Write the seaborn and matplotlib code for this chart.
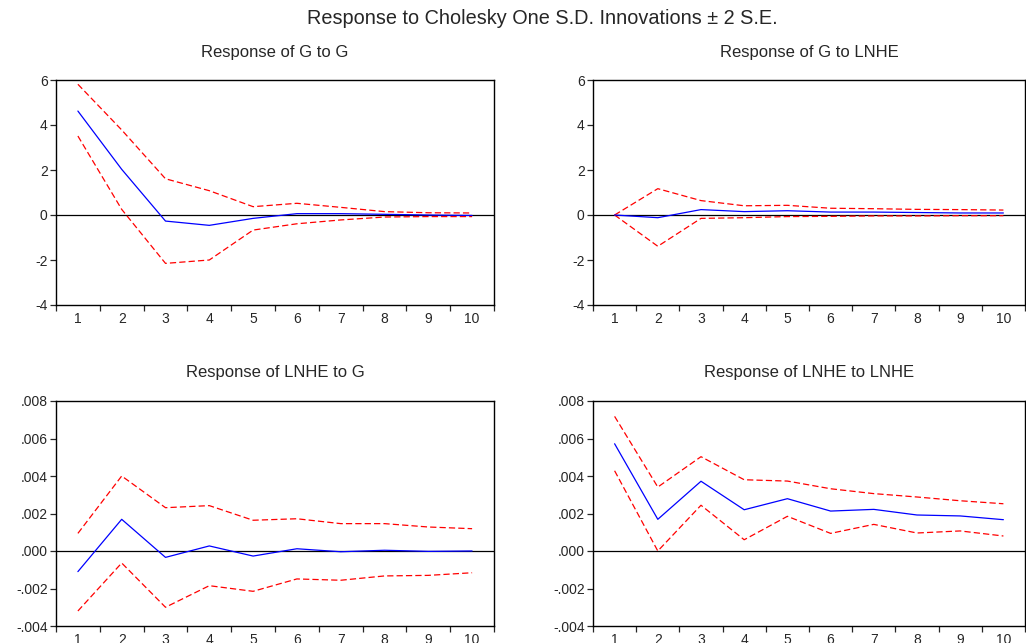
import numpy as np
import pandas as pd
import matplotlib
matplotlib.use("Agg")
import matplotlib.pyplot as plt
from matplotlib.ticker import FixedLocator, FuncFormatter
import seaborn as sns

sns.set_style("ticks")
plt.rcParams['font.family'] = ['Liberation Sans', 'DejaVu Sans']
plt.rcParams['axes.unicode_minus'] = False

periods = list(range(1, 11))

# Response of G to G
g_g = [4.62, 2.03, -0.27, -0.46, -0.15, 0.06, 0.06, 0.03, 0.00, -0.02]
g_g_hi = [5.81, 3.78, 1.61, 1.08, 0.37, 0.52, 0.34, 0.15, 0.10, 0.09]
g_g_lo = [3.51, 0.25, -2.15, -2.00, -0.67, -0.39, -0.22, -0.09, -0.07, -0.07]

# Response of G to LNHE
g_l = [0.00, -0.12, 0.24, 0.15, 0.19, 0.13, 0.13, 0.11, 0.09, 0.09]
g_l_hi = [0.00, 1.17, 0.64, 0.41, 0.43, 0.30, 0.28, 0.25, 0.24, 0.22]
g_l_lo = [0.00, -1.39, -0.15, -0.12, -0.07, -0.06, -0.04, -0.04, -0.03, -0.03]

# Response of LNHE to G
l_g = [-0.00110, 0.00169, -0.00034, 0.00027, -0.00027, 0.00012, -0.00004, 0.00004, -0.00002, 0.00000]
l_g_hi = [0.00094, 0.00400, 0.00231, 0.00242, 0.00164, 0.00172, 0.00146, 0.00146, 0.00128, 0.00119]
l_g_lo = [-0.00320, -0.00064, -0.00300, -0.00185, -0.00215, -0.00149, -0.00156, -0.00133, -0.00130, -0.00116]

# Response of LNHE to LNHE
l_l = [0.00572, 0.00169, 0.00372, 0.00220, 0.00279, 0.00213, 0.00222, 0.00192, 0.00187, 0.00167]
l_l_hi = [0.00718, 0.00341, 0.00503, 0.00380, 0.00373, 0.00332, 0.00306, 0.00288, 0.00268, 0.00252]
l_l_lo = [0.00428, 0.00000, 0.00244, 0.00060, 0.00185, 0.00094, 0.00142, 0.00096, 0.00107, 0.00080]

panels = [
    ("Response of G to G", g_g, g_g_hi, g_g_lo, [-4, 6], [-4, -2, 0, 2, 4, 6], False),
    ("Response of G to LNHE", g_l, g_l_hi, g_l_lo, [-4, 6], [-4, -2, 0, 2, 4, 6], False),
    ("Response of LNHE to G", l_g, l_g_hi, l_g_lo, [-0.004, 0.008],
     [-0.004, -0.002, 0.0, 0.002, 0.004, 0.006, 0.008], True),
    ("Response of LNHE to LNHE", l_l, l_l_hi, l_l_lo, [-0.004, 0.008],
     [-0.004, -0.002, 0.0, 0.002, 0.004, 0.006, 0.008], True),
]

W, H = 1026, 643
boxes = [(56, 80, 494, 305), (593, 80, 1025, 305),
         (56, 401, 494, 626), (593, 401, 1025, 626)]

fig = plt.figure(figsize=(W / 100, H / 100), dpi=100)


def dec_fmt(v, pos):
    return f"{v:.3f}".replace("0.", ".")


for (title, mid, hi, lo, ylim, yticks, small), (x0, y0, x1, y1) in zip(panels, boxes):
    ax = fig.add_axes([x0 / W, 1 - y1 / H, (x1 - x0) / W, (y1 - y0) / H])
    df = pd.DataFrame({"period": periods, "mid": mid, "hi": hi, "lo": lo})
    ax.axhline(0, color="black", lw=0.9, zorder=1)
    # +/- 2 S.E. bands (red dashed), response (blue)
    sns.lineplot(data=df, x="period", y="hi", ax=ax, color="red", lw=0.9,
                 linestyle=(0, (5, 2.5)))
    sns.lineplot(data=df, x="period", y="lo", ax=ax, color="red", lw=0.9,
                 linestyle=(0, (5, 2.5)))
    sns.lineplot(data=df, x="period", y="mid", ax=ax, color="blue", lw=0.9)
    ax.set_xlim(0.5, 10.5)
    ax.set_ylim(*ylim)
    ax.set_xlabel("")
    ax.set_ylabel("")
    ax.xaxis.set_major_locator(FixedLocator(np.arange(0.5, 11, 1.0)))
    ax.xaxis.set_major_formatter(FuncFormatter(lambda v, p: ""))
    ax.xaxis.set_minor_locator(FixedLocator(periods))
    ax.xaxis.set_minor_formatter(FuncFormatter(lambda v, p: f"{int(round(v))}"))
    ax.tick_params(axis="x", which="major", direction="out", length=4, width=0.9)
    ax.tick_params(axis="x", which="minor", length=0, pad=5, labelsize=10)
    ax.set_yticks(yticks)
    if small:
        ax.yaxis.set_major_formatter(FuncFormatter(dec_fmt))
    ax.tick_params(axis="y", direction="out", length=4, width=0.9, labelsize=10, pad=2)
    for s in ax.spines.values():
        s.set_visible(True)
        s.set_linewidth(1.0)
        s.set_color("black")
    fig.text((x0 + x1) / 2 / W, 1 - (y0 - 28) / H, title, ha="center", va="center",
             fontsize=12)

fig.text(542 / W, 1 - 19 / H, "Response to Cholesky One S.D. Innovations \u00b1 2 S.E.",
         ha="center", va="center", fontsize=14.3)

fig.savefig("out.png", dpi=100)
